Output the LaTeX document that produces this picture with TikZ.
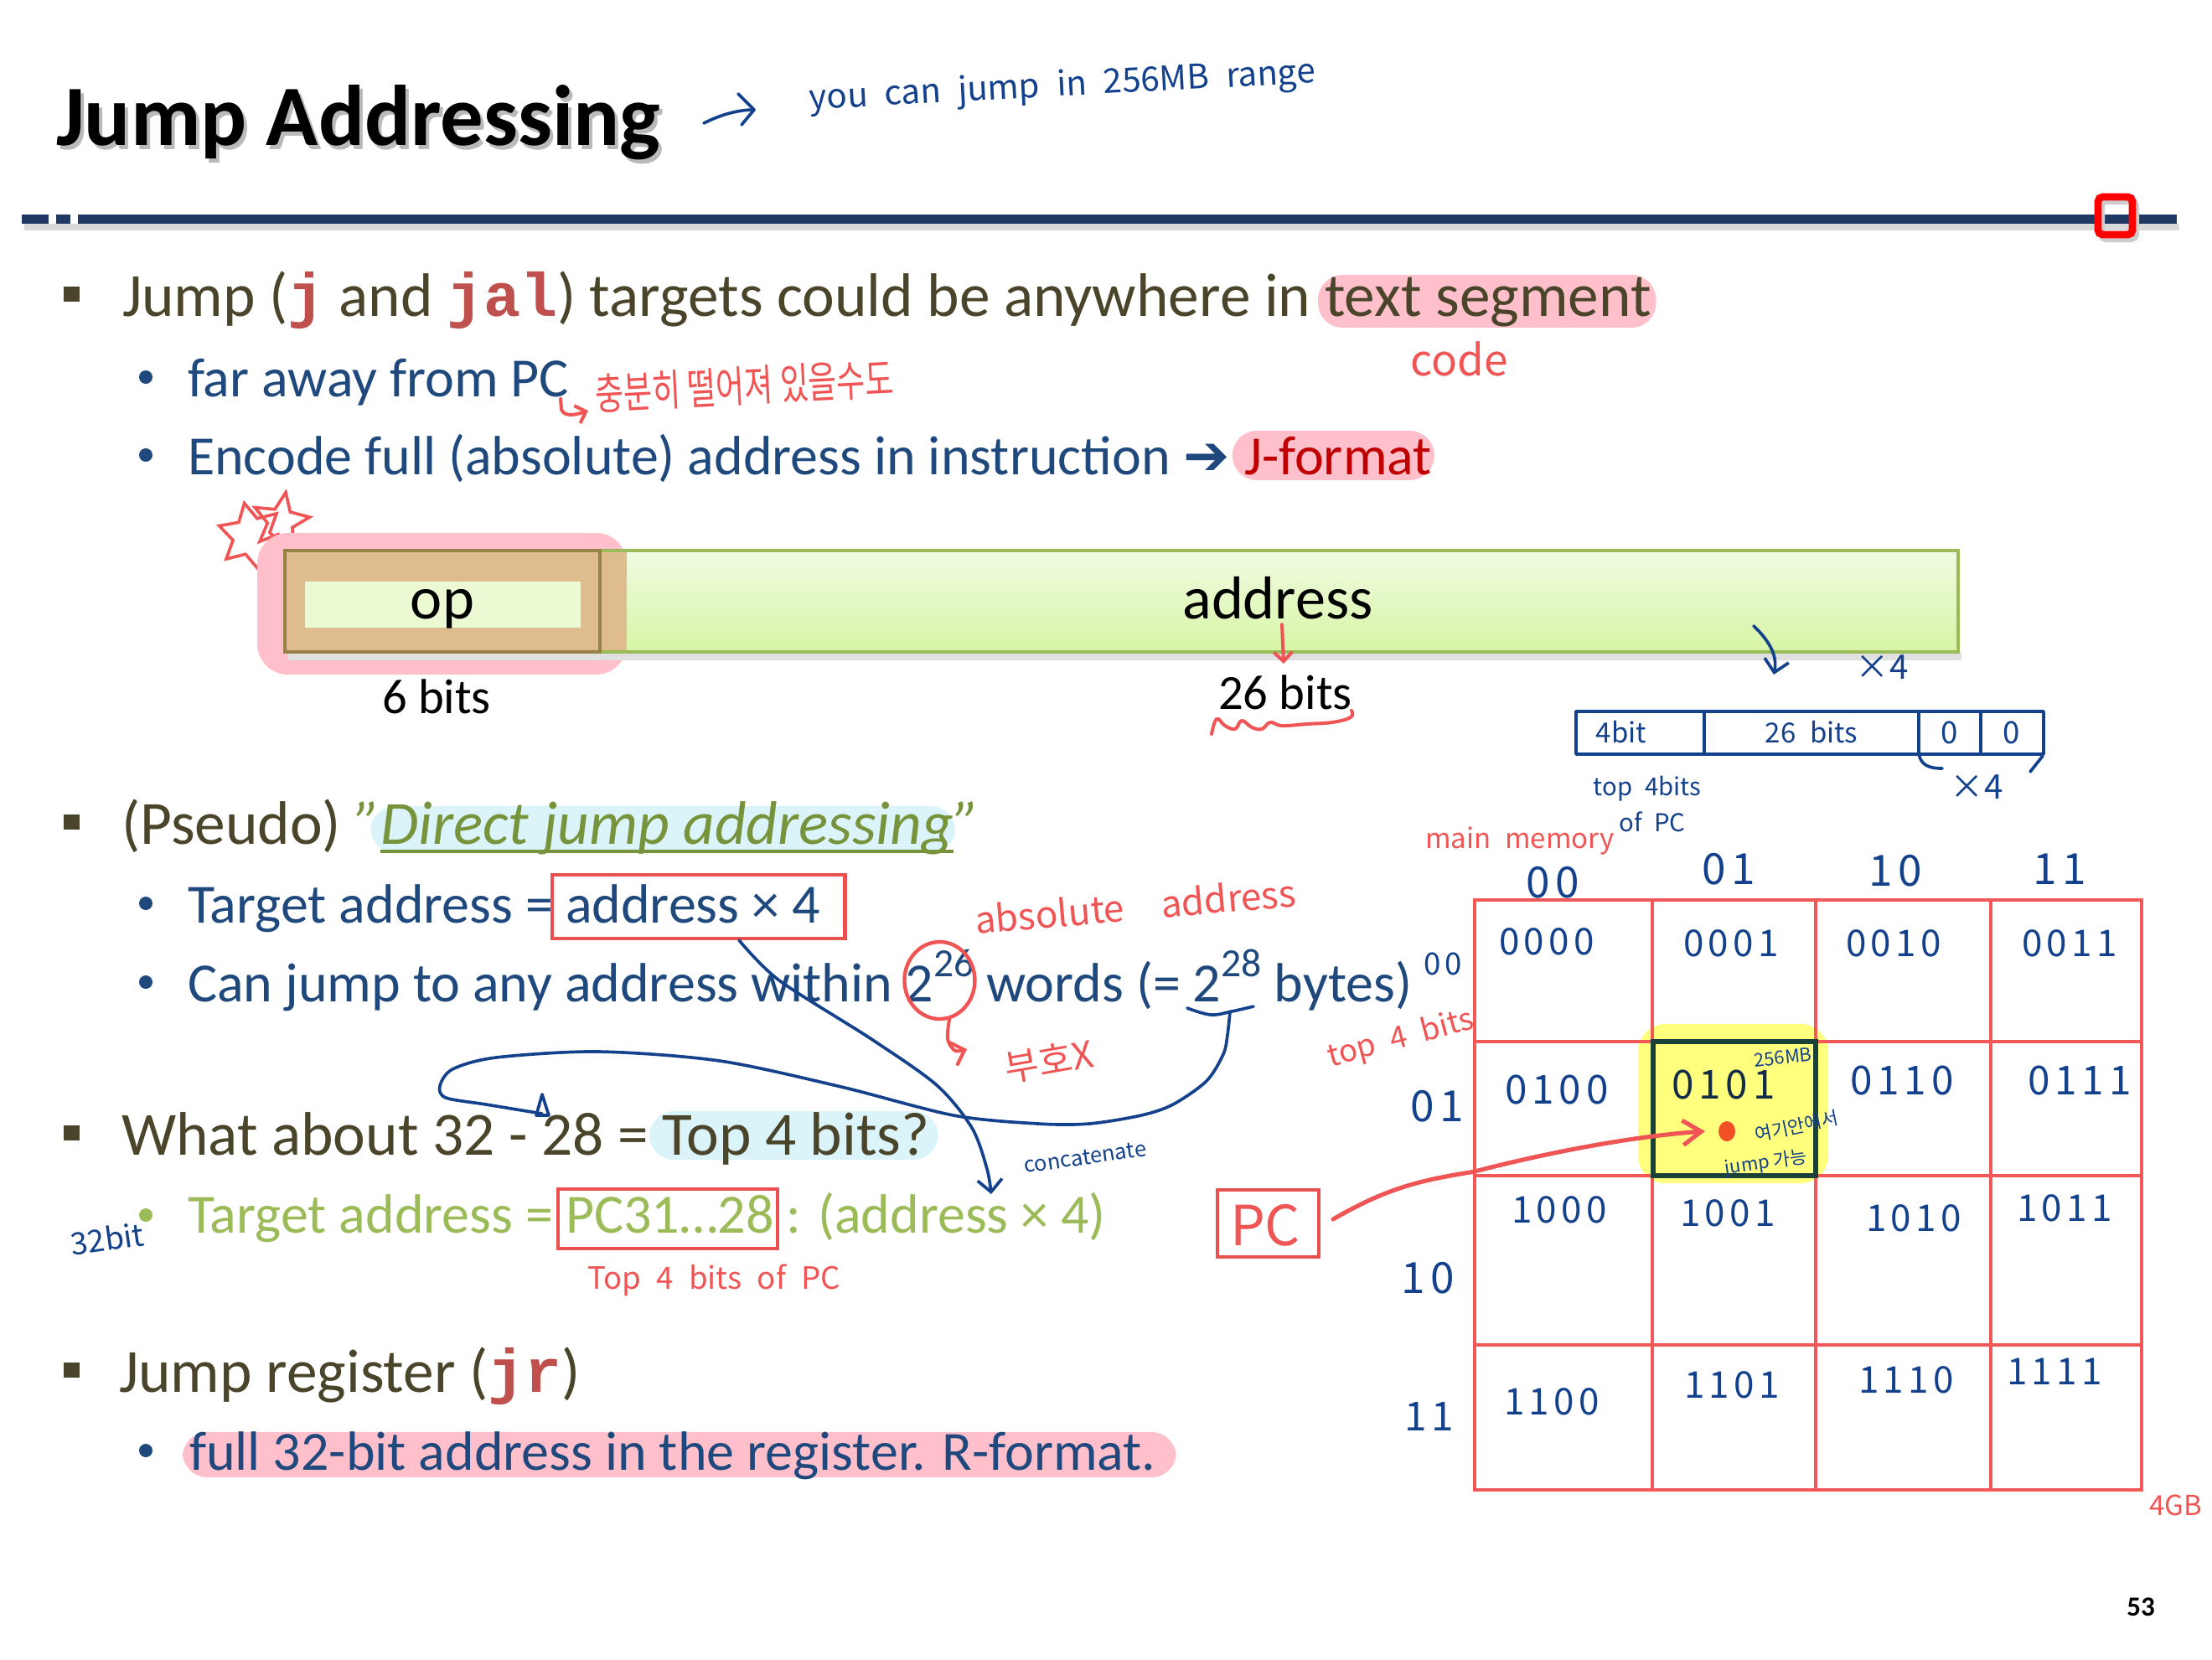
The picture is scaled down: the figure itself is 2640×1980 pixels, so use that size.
\documentclass[tikz,border=0pt]{standalone}
\usepackage{fontspec}
\setmainfont{Carlito}
\newfontfamily\codefont{Liberation Mono}
\newfontfamily\hand{Noto Sans CJK KR}
\newfontfamily\handsp[LetterSpace=12]{Noto Sans CJK KR}
\newfontfamily\dejavu{DejaVu Sans}
\usetikzlibrary{calc,arrows.meta,shapes.geometric}
\pgfdeclarelayer{bg}
\pgfsetlayers{bg,main}
\newcommand\wsp{\kern\fontdimen2\font}
\newcommand\supnum[1]{\raisebox{0.45em}{\fontsize{13}{14}\selectfont #1}}
\definecolor{navy}{RGB}{31,56,100}
\definecolor{maintxt}{RGB}{74,69,42}
\definecolor{subblue}{RGB}{31,73,125}
\definecolor{codered}{RGB}{192,80,77}
\definecolor{hlpink}{RGB}{255,192,203}
\definecolor{jred}{RGB}{192,0,0}
\definecolor{lgreen}{RGB}{155,187,89}
\definecolor{dgreen}{RGB}{119,147,60}
\definecolor{hlcyan}{RGB}{218,244,250}
\definecolor{penblue}{RGB}{20,65,140}
\definecolor{penred}{RGB}{240,85,85}
\definecolor{boxred}{RGB}{235,80,80}
\definecolor{gridred}{RGB}{242,88,88}
\definecolor{boxtop}{RGB}{240,251,226}
\definecolor{boxbot}{RGB}{215,245,165}
\definecolor{optan}{RGB}{222,188,142}
\definecolor{opline}{RGB}{150,130,70}
\definecolor{opinner}{RGB}{236,250,212}
\definecolor{hlyellow}{RGB}{255,255,125}
\definecolor{cellgreen}{RGB}{25,65,55}
\definecolor{dotred}{RGB}{240,80,35}
\tikzset{
  txt/.style={inner sep=0pt, outer sep=0pt, anchor=base west},
  mainf/.style={txt, font=\fontsize{20}{24}\selectfont, text=maintxt},
  subf/.style={txt, font=\fontsize{18}{22}\selectfont, text=subblue},
  codef/.style={txt, font=\codefont\bfseries\fontsize{20}{24}\selectfont, text=codered},
  greenf/.style={txt, font=\fontsize{18}{22}\selectfont, text=lgreen},
  greenit/.style={txt, font=\itshape\fontsize{20}{24}\selectfont, text=dgreen},
  boxtxt/.style={inner sep=0pt, anchor=base, font=\fontsize{19.7}{23}\selectfont, text=black},
  hb/.style={inner sep=0pt, text=penblue, font=\hand\fontsize{#1}{#1}\selectfont},
  hr/.style={inner sep=0pt, text=penred, font=\hand\fontsize{#1}{#1}\selectfont},
  cell/.style={inner sep=0pt, text=penblue, font=\handsp\fontsize{#1}{#1}\selectfont},
  pen/.style={draw=penblue, line width=1pt, line cap=round, line join=round},
  penr/.style={draw=penred, line width=1.1pt, line cap=round, line join=round},
}
\begin{document}
\begin{tikzpicture}[x=0.27273pt,y=-0.27273pt]
\useasboundingbox (0,0) rectangle (2640,1980);
\begin{pgfonlayer}{bg}
\fill[white] (0,0) rectangle (2640,1980);
\end{pgfonlayer}

% ---------- title ----------
\node[txt, font=\bfseries\fontsize{28}{32}\selectfont, text=black!45, opacity=.6] (titleshadow) at (71,178) {Jump Addressing};
\node[txt, font=\bfseries\fontsize{28}{32}\selectfont, text=black] (title) at (67,173) {Jump Addressing};

\draw[pen] (840,147) .. controls (862,136) and (882,131) .. (900,131);
\draw[pen] (881,112) -- (900,131) -- (885,149);
\node[hb=11, rotate=3] (note) at (1268,104) {you\enskip can\enskip jump\enskip in\enskip 256MB\enskip range};

% ---------- header bar ----------
\fill[black!15] (29,267) rectangle (2601,275);
\fill[navy] (26,256) rectangle (58,267);
\fill[navy] (67,256) rectangle (84,267);
\fill[navy] (93,256) rectangle (2598,267);
\draw[black!20, line width=2.2pt, rounded corners=1.5pt] (2508,240) rectangle (2549,285);
\draw[red, line width=2.4pt, rounded corners=1.5pt] (2504,235) rectangle (2545,280);

% ---------- bullet 1 ----------
\fill[maintxt] (76,342) rectangle (95,360);
\node[mainf] (l1a) at (146,377) {Jump (};
\node[codef] (l1b) at (l1a.base east) {j};
\node[mainf] (l1c) at (l1b.base east) {\wsp and\wsp};
\node[codef] (l1d) at (l1c.base east) {jal};
\node[mainf] (l1e) at (l1d.base east) {) targets could be anywhere in\wsp};
\node[mainf] (l1f) at (l1e.base east) {text segment};
\node[hr=14] (code) at (1742,428) {code};

\fill[subblue] (174,450) circle (8);
\node[subf] (s1) at (224,473) {far away from PC};
\draw[penr, -{Straight Barb[length=3pt]}] (669,476) -- (670,488) .. controls (672,496) and (682,497) .. (702,490);
\node[hr=14, rotate=3, anchor=west] (kr1) at (710,470) {\scalebox{0.72}[1]{충분히 떨어져 있을수도}};

\fill[subblue] (174,543) circle (8);
\node[subf] (e1) at (224,566) {Encode full (absolute) address in instruction\wsp};
\node[subf, font=\dejavu\bfseries\fontsize{18}{22}\selectfont] (e2) at (e1.base east) {➔\kern5pt};
\node[subf, text=jred] (e3) at (e2.base east) {J-format};

% ---------- J-format field ----------
\node[star, star points=6, star point ratio=1.8, draw=penred, line width=1pt, minimum size=22pt, inner sep=0pt, rotate=12] (doodle1) at (300,640) {};
\node[star, star points=5, star point ratio=2.2, draw=penred, line width=1pt, minimum size=19pt, inner sep=0pt, rotate=-10] (doodle2) at (335,622) {};
\fill[hlpink, rounded corners=10pt] (307,636) rectangle (748,805);
\fill[black!12] (344,778) rectangle (2341,788);
\shade[top color=boxtop, bottom color=boxbot] (340,657) rectangle (2337,778);
\fill[optan] (340,657) rectangle (748,778);
\draw[lgreen, line width=1.1pt] (340,657) rectangle (2337,778);
\draw[opline, line width=1pt] (340,657) rectangle (716,778);
\fill[opinner] (364,694) rectangle (693,749);
\node[boxtxt] (op) at (528,738) {op};
\node[boxtxt] (addr) at (1525,738) {address};
\node[boxtxt, font=\fontsize{16}{19}\selectfont] (six) at (521,851) {6 bits};
\node[boxtxt, font=\fontsize{16}{19}\selectfont] (twsix) at (1534,846) {26 bits};
\draw[penr, -{Straight Barb[length=3pt]}] (addr.south) ++(5,6) -- (1532,792);
\draw[penr] plot[smooth, tension=0.7] coordinates {(1446,876) (1452,858) (1462,866) (1474,870) (1482,860) (1494,868) (1506,870) (1516,862) (1530,866) (1560,864) (1590,862) (1612,856) (1613,848)};

% ---------- top-right bit layout ----------
\draw[pen, -{Straight Barb[length=4pt]}] (2093,747) .. controls (2115,768) and (2121,785) .. (2117,805);
\node[hb=11] (x4a) at (2246,796) {×4};
\draw[pen] (1881,849) rectangle (2439,900);
\draw[pen] (2034,849) -- (2034,900);
\draw[pen] (2290,849) -- (2290,900);
\draw[pen] (2364,849) -- (2364,900);
\node[hb=9] (b4) at (1935,874) {4bit};
\node[hb=9] (b26) at (2162,874) {26\enskip bits};
\node[hb=10] (bz1) at (2327,874) {0};
\node[hb=10] (bz2) at (2401,874) {0};
\draw[pen] (2290,900) .. controls (2293,912) and (2300,917) .. (2318,917);
\draw[pen] (2438,902) -- (2423,921);
\node[hb=11] (x4b) at (2359,939) {×4};
\node[hb=8] (tp4) at (1966,941) {top\enskip 4bits};
\node[hb=8] (ofpc) at (1972,981) {of\enskip PC};

% ---------- memory grid ----------
\node[hr=9] (mainmem) at (1814,1004) {main\enskip memory};
\fill[hlyellow, rounded corners=9pt] (1955,1222) rectangle (2182,1412);
\draw[gridred, line width=1.3pt] (1760,1074) rectangle (2556,1778);
\foreach \xx in {1972,2167,2376} \draw[gridred, line width=1.3pt] (\xx,1074) -- (\xx,1778);
\foreach \yy in {1243,1403,1605} \draw[gridred, line width=1.3pt] (1760,\yy) -- (2556,\yy);
\draw[cellgreen, line width=1.6pt] (1973,1243) rectangle (2167,1403);

\node[cell=14] (ch0) at (1853,1053) {00};
\node[cell=14] (ch1) at (2063,1037) {01};
\node[cell=14] (ch2) at (2262,1039) {10};
\node[cell=14] (ch3) at (2458,1037) {11};
\node[cell=10] (rh0) at (1722,1150) {00};
\node[cell=14] (rh1) at (1715,1320) {01};
\node[cell=14] (rh2) at (1704,1525) {10};
\node[cell=13] (rh3) at (1706,1690) {11};
\node[hr=10, rotate=15] (top4) at (1672,1240) {top\enskip 4\enskip bits};

\node[cell=12] (m0) at (1846,1124) {0000};
\node[cell=12] (m1) at (2066,1126) {0001};
\node[cell=12] (m2) at (2260,1126) {0010};
\node[cell=12] (m3) at (2470,1126) {0011};
\node[cell=13] (m4) at (1858,1300) {0100};
\node[cell=13, text={rgb,255:red,20;green,45;blue,70}] (m5) at (2057,1294) {0101};
\node[cell=13] (m6) at (2270,1289) {0110};
\node[cell=13] (m7) at (2482,1289) {0111};
\node[cell=12] (m8) at (1861,1444) {1000};
\node[cell=12] (m9) at (2062,1448) {1001};
\node[cell=12] (m10) at (2284,1454) {1010};
\node[cell=12] (m11) at (2464,1442) {1011};
\node[cell=12] (m12) at (1852,1673) {1100};
\node[cell=12] (m13) at (2067,1653) {1101};
\node[cell=12] (m14) at (2275,1647) {1110};
\node[cell=12] (m15) at (2452,1637) {1111};
\node[hb=6, rotate=6] (mb256) at (2128,1262) {256MB};
\node[hb=6, rotate=12] (here) at (2144,1344) {여기안에서};
\node[hb=6, rotate=8] (jg) at (2108,1388) {jump 가능};
\node[hr=9] (fourgb) at (2597,1796) {4GB};

% ---------- Pseudo ----------
\fill[maintxt] (76,972) rectangle (95,990);
\node[mainf] (p1) at (145,1007) {(Pseudo)\wsp};
\node[greenit] (p2) at (p1.base east) {"};
\node[greenit] (p3) at (p2.base east) {Direct jump addressing};
\node[greenit] (p4) at (p3.base east) {"};
\draw[dgreen, line width=0.9pt] ($(p3.base west)+(0,9)$) -- ($(p3.base east)+(0,9)$);

\fill[subblue] (174,1078) circle (8);
\node[subf] (t1) at (224,1101) {Target address =\wsp};
\node[subf] (t2) at (t1.base east) {address × 4};
\draw[boxred, line width=1.3pt] ($(t2.base west)+(-16,-57)$) rectangle ($(t2.base east)+(30,19)$);

\fill[subblue] (174,1172) circle (8);
\node[subf] (c1) at (224,1195) {Can jump to any address within\wsp};
\node[subf] (c2) at (c1.base east) {2\supnum{26}};
\node[subf] (c3) at (c2.base east) {\wsp words (=\wsp};
\node[subf] (c4) at (c3.base east) {2\supnum{28}};
\node[subf] (c5) at (c4.base east) {\wsp bytes)};
\draw[penr, line width=1.2pt] ($(c2.base)+(0,-25)$) ellipse [x radius=42, y radius=46];
\draw[penr, -{Straight Barb[length=4pt]}] plot[smooth] coordinates {(1133,1216) (1131,1240) (1140,1254) (1154,1252)};
\node[hr=12, rotate=10] (nosign) at (1252,1266) {부호X};
\node[hr=12, rotate=5] (absaddr) at (1355,1081) {absolute\quad address};

\node[hb=7, rotate=8] (concat) at (1295,1381) {concatenate};
\draw[pen, -{Straight Barb[length=4pt]}] plot[smooth] coordinates {(882,1122) (930,1170) (1040,1240) (1118,1295) (1160,1346) (1178,1395) (1183,1425)};
\draw[pen] plot[smooth, tension=0.6] coordinates {(1417,1203) (1445,1211) (1470,1207) (1496,1201)};
\draw[pen] plot[smooth] coordinates {(1468,1207) (1465,1235) (1460,1258) (1440,1290) (1400,1318) (1362,1331) (1300,1341) (1239,1341) (1138,1331) (1004,1297) (859,1266) (714,1255) (592,1262) (540,1276) (525,1296) (532,1310) (580,1318) (647,1329)};
\draw[pen] (640,1331) -- (647,1306) -- (655,1331) -- cycle;

% ---------- What about ----------
\fill[maintxt] (76,1343) rectangle (95,1361);
\node[mainf] (w1) at (145,1378) {What about 32 - 28 =\wsp};
\node[mainf] (w2) at (w1.base east) {Top 4 bits?};

\fill[lgreen] (174,1450) circle (8);
\node[hb=10, rotate=8] (b32) at (128,1478) {32bit};
\node[greenf] (g1) at (224,1471) {Target address =\wsp};
\node[greenf] (g2) at (g1.base east) {PC31…28};
\node[greenf] (g3) at (g2.base east) {\wsp: (address × 4)};
\draw[boxred, line width=1.1pt] ($(g2.base west)+(-9,-52)$) rectangle ($(g2.base east)+(4,19)$);
\node[hr=10] (top4pc) at (852,1528) {Top\enskip 4\enskip bits\enskip of\enskip PC};

\draw[boxred, line width=1.3pt] (1453,1420) rectangle (1574,1500);
\node[hr=18] (pc) at (1510,1462) {PC};
\draw[penr, line width=1.4pt, -{Straight Barb[length=6pt,width=8pt]}] (1591,1455) .. controls (1660,1415) and (1700,1408) .. (1760,1398) .. controls (1860,1372) and (1960,1355) .. (2035,1350);
\fill[dotred] (2061,1350) ellipse [x radius=10, y radius=12];

% ---------- Jump register ----------
\fill[maintxt] (76,1626) rectangle (95,1644);
\node[mainf] (r1) at (142,1661) {Jump register (};
\node[codef] (r2) at (r1.base east) {jr};
\node[mainf] (r3) at (r2.base east) {)};
\fill[subblue] (174,1731) circle (8);
\node[subf] (r4) at (226,1754) {full 32-bit address in the register. R-format.};

\node[inner sep=0pt, font=\bfseries\fontsize{9}{10}\selectfont] (pg) at (2555,1918) {53};

% ---------- highlights (behind text) ----------
\begin{pgfonlayer}{bg}
\fill[hlpink, rounded corners=8pt] ($(l1f.base west)+(-8,-49)$) rectangle ($(l1f.base east)+(6,14)$);
\fill[hlpink, rounded corners=8pt] ($(e3.base west)+(-15,-52)$) rectangle ($(e3.base east)+(3,7)$);
\fill[hlcyan, rounded corners=8pt] ($(p3.base west)+(-12,-45)$) rectangle ($(p4.base west)+(2,11)$);
\fill[hlcyan, rounded corners=8pt] ($(w2.base west)+(-15,-52)$) rectangle ($(w2.base east)+(10,6)$);
\fill[hlpink, rounded corners=8pt] ($(r4.base west)+(-8,-45)$) rectangle ($(r4.base east)+(24,9)$);
\end{pgfonlayer}
\end{tikzpicture}
\end{document}
